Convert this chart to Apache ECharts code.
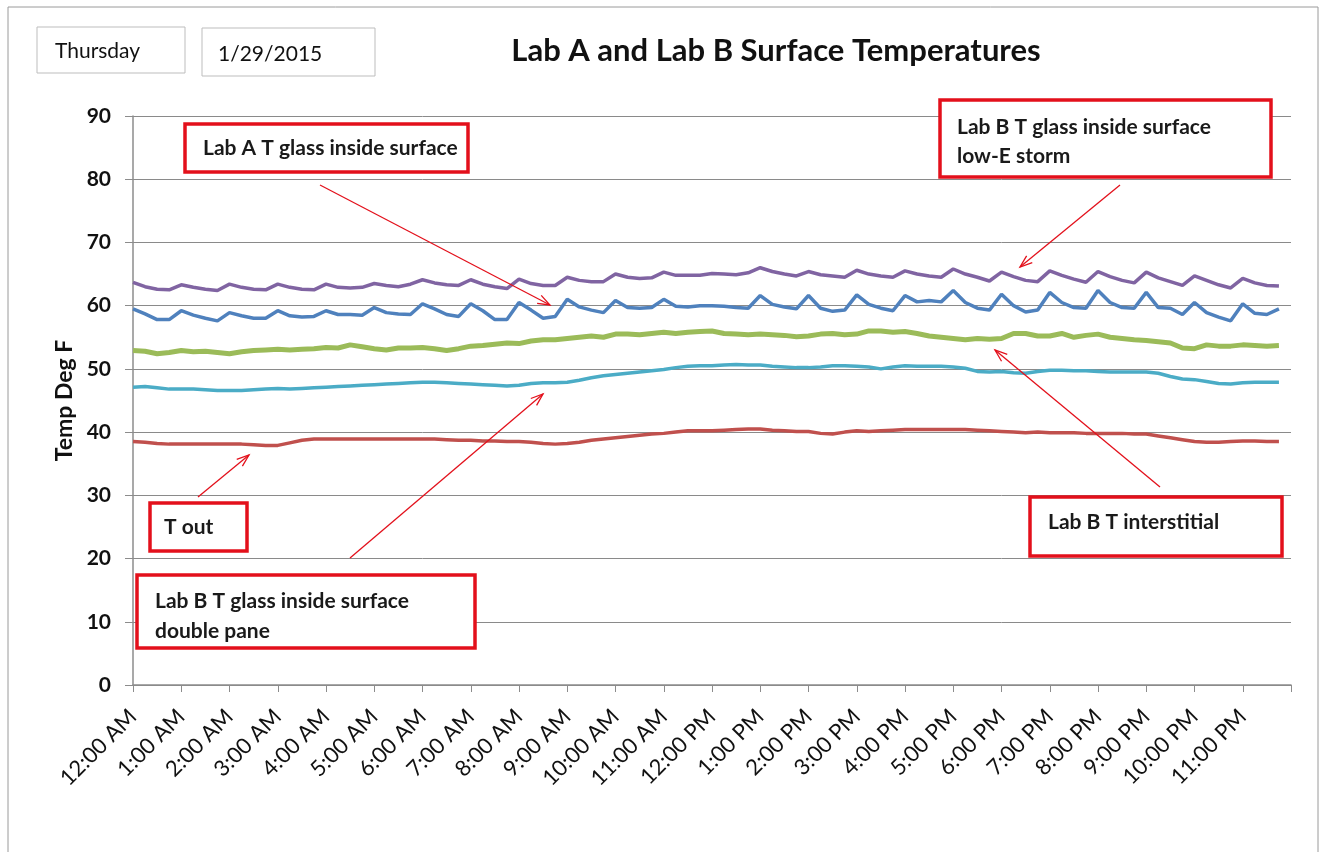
<!DOCTYPE html>
<html>
<head>
<meta charset="utf-8">
<script src="https://cdn.jsdelivr.net/npm/echarts@6/dist/echarts.min.js"></script>
<style>
  html, body { margin: 0; padding: 0; background: #fff; }
  #chart { width: 1331px; height: 852px; }
</style>
</head>
<body>
<div id="chart"></div>
<script>
// samples every 15 minutes, 12:00 AM .. 11:45 PM
const hourLabels = ["12:00 AM", "1:00 AM", "2:00 AM", "3:00 AM", "4:00 AM", "5:00 AM", "6:00 AM", "7:00 AM",
  "8:00 AM", "9:00 AM", "10:00 AM", "11:00 AM", "12:00 PM", "1:00 PM", "2:00 PM", "3:00 PM", "4:00 PM",
  "5:00 PM", "6:00 PM", "7:00 PM", "8:00 PM", "9:00 PM", "10:00 PM", "11:00 PM"];

const labBLowE = [
  63.7, 63.0, 62.6, 62.5, 63.3, 62.9, 62.6, 62.4, 63.4, 62.9, 62.6, 62.5, 63.4, 62.9, 62.6, 62.5,
  63.4, 62.9, 62.8, 62.9, 63.5, 63.2, 63.0, 63.4, 64.1, 63.6, 63.3, 63.2, 64.1, 63.4, 63.0, 62.7,
  64.2, 63.5, 63.2, 63.2, 64.5, 64.0, 63.8, 63.8, 65.0, 64.5, 64.3, 64.4, 65.3, 64.8, 64.8, 64.8,
  65.1, 65.0, 64.9, 65.2, 66.0, 65.4, 65.0, 64.7, 65.4, 64.9, 64.7, 64.5, 65.6, 65.0, 64.7, 64.5,
  65.5, 65.0, 64.7, 64.5, 65.8, 65.0, 64.5, 63.9, 65.3, 64.6, 64.0, 63.8, 65.5, 64.8, 64.2, 63.7,
  65.4, 64.6, 64.0, 63.6, 65.3, 64.4, 63.8, 63.2, 64.7, 64.0, 63.3, 62.8, 64.3, 63.6, 63.2, 63.1
];
const labAGlass = [
  59.5, 58.7, 57.8, 57.8, 59.2, 58.5, 58.0, 57.6, 58.9, 58.4, 58.0, 58.0, 59.2, 58.4, 58.2, 58.3,
  59.2, 58.6, 58.6, 58.5, 59.7, 58.9, 58.7, 58.6, 60.3, 59.5, 58.6, 58.3, 60.3, 59.2, 57.8, 57.8,
  60.5, 59.3, 58.0, 58.3, 61.0, 59.8, 59.3, 58.9, 60.8, 59.7, 59.6, 59.7, 61.0, 59.9, 59.8, 60.0,
  60.0, 59.9, 59.7, 59.6, 61.6, 60.2, 59.8, 59.5, 61.6, 59.6, 59.1, 59.3, 61.7, 60.2, 59.6, 59.2,
  61.6, 60.6, 60.8, 60.6, 62.4, 60.5, 59.6, 59.3, 61.8, 60.0, 59.0, 59.3, 62.1, 60.5, 59.7, 59.6,
  62.4, 60.5, 59.7, 59.6, 62.1, 59.7, 59.6, 58.6, 60.5, 58.9, 58.2, 57.6, 60.3, 58.8, 58.6, 59.5
];
const labBInterstitial = [
  52.9, 52.8, 52.4, 52.6, 52.9, 52.7, 52.8, 52.6, 52.4, 52.7, 52.9, 53.0, 53.1, 53.0, 53.1, 53.2,
  53.4, 53.3, 53.8, 53.5, 53.2, 53.0, 53.3, 53.3, 53.4, 53.2, 52.9, 53.2, 53.6, 53.7, 53.9, 54.1,
  54.0, 54.4, 54.6, 54.6, 54.8, 55.0, 55.2, 55.0, 55.5, 55.5, 55.4, 55.6, 55.8, 55.6, 55.8, 55.9,
  56.0, 55.6, 55.5, 55.4, 55.5, 55.4, 55.3, 55.1, 55.2, 55.5, 55.6, 55.4, 55.5, 56.0, 56.0, 55.8,
  55.9, 55.6, 55.2, 55.0, 54.8, 54.6, 54.8, 54.7, 54.8, 55.6, 55.6, 55.2, 55.2, 55.6, 55.0, 55.3,
  55.5, 55.0, 54.8, 54.6, 54.5, 54.3, 54.1, 53.3, 53.2, 53.8, 53.6, 53.6, 53.8, 53.7, 53.6, 53.7
];
const labBDoublePane = [
  47.1, 47.2, 47.0, 46.8, 46.8, 46.8, 46.7, 46.6, 46.6, 46.6, 46.7, 46.8, 46.9, 46.8, 46.9, 47.0,
  47.1, 47.2, 47.3, 47.4, 47.5, 47.6, 47.7, 47.8, 47.9, 47.9, 47.8, 47.7, 47.6, 47.5, 47.4, 47.3,
  47.4, 47.7, 47.8, 47.8, 47.9, 48.2, 48.6, 48.9, 49.1, 49.3, 49.5, 49.7, 49.9, 50.2, 50.4, 50.5,
  50.5, 50.6, 50.7, 50.6, 50.6, 50.4, 50.3, 50.2, 50.2, 50.3, 50.5, 50.5, 50.4, 50.3, 50.0, 50.3,
  50.5, 50.4, 50.4, 50.4, 50.3, 50.1, 49.6, 49.5, 49.6, 49.4, 49.3, 49.6, 49.8, 49.8, 49.7, 49.7,
  49.6, 49.5, 49.5, 49.5, 49.5, 49.3, 48.8, 48.4, 48.3, 48.0, 47.7, 47.6, 47.8, 47.9, 47.9, 47.9
];
const tOut = [
  38.5, 38.4, 38.2, 38.1, 38.1, 38.1, 38.1, 38.1, 38.1, 38.1, 38.0, 37.9, 37.9, 38.3, 38.7, 38.9,
  38.9, 38.9, 38.9, 38.9, 38.9, 38.9, 38.9, 38.9, 38.9, 38.9, 38.8, 38.7, 38.7, 38.6, 38.6, 38.5,
  38.5, 38.4, 38.2, 38.1, 38.2, 38.4, 38.7, 38.9, 39.1, 39.3, 39.5, 39.7, 39.8, 40.0, 40.2, 40.2,
  40.2, 40.3, 40.4, 40.5, 40.5, 40.3, 40.2, 40.1, 40.1, 39.8, 39.7, 40.0, 40.2, 40.1, 40.2, 40.3,
  40.4, 40.4, 40.4, 40.4, 40.4, 40.4, 40.3, 40.2, 40.1, 40.0, 39.9, 40.0, 39.9, 39.9, 39.9, 39.8,
  39.8, 39.8, 39.8, 39.7, 39.7, 39.4, 39.1, 38.8, 38.5, 38.4, 38.4, 38.5, 38.6, 38.6, 38.5, 38.5
];

const hours = [];
for (let i = 0; i < 96; i++) hours.push(i / 4);
function pairs(vals) {
  return vals.map((v, i) => [hours[i], v]);
}

const FONT = "Lato, 'Open Sans', sans-serif";
const RED = "#e3101b";

// red callout box with bold text, text block centred vertically on cy
function box(x, y, w, h, lines, tx, cy, lh) {
  return [{
    type: "rect", shape: { x: x, y: y, width: w, height: h },
    style: { fill: "#fff", stroke: RED, lineWidth: 3.5 }, z: 100
  }, {
    type: "text", x: tx, y: cy, z: 101,
    style: { text: lines.join("\n"), font: "bold 21px " + FONT, fill: "#1a1a1a",
      lineHeight: lh || 24, verticalAlign: "middle" }
  }];
}
function arrow(x1, y1, x2, y2) {
  const a = Math.atan2(y2 - y1, x2 - x1), L = 13, s = 0.35;
  return [{
    type: "line", z: 100, shape: { x1: x1, y1: y1, x2: x2, y2: y2 },
    style: { stroke: RED, lineWidth: 1.3 }
  }, {
    type: "polyline", z: 100,
    shape: { points: [[x2 - L * Math.cos(a - s), y2 - L * Math.sin(a - s)], [x2, y2],
      [x2 - L * Math.cos(a + s), y2 - L * Math.sin(a + s)]] },
    style: { stroke: RED, lineWidth: 1.3, fill: null }
  }];
}

let chart = echarts.init(document.getElementById("chart"));
let graphics = [
  { type: "rect", shape: { x: 8, y: 7, width: 1310, height: 860 }, style: { fill: null, stroke: "#9a9a9a", lineWidth: 1 } },
  { type: "rect", shape: { x: 37, y: 27, width: 148, height: 46 }, style: { fill: "#fff", stroke: "#bdbdbd", lineWidth: 1 } },
  { type: "text", x: 55, y: 51, style: { text: "Thursday", font: "21px " + FONT, fill: "#111", verticalAlign: "middle" } },
  { type: "rect", shape: { x: 202, y: 28, width: 173, height: 48 }, style: { fill: "#fff", stroke: "#bdbdbd", lineWidth: 1 } },
  { type: "text", x: 218, y: 54, style: { text: "1/29/2015", font: "21px " + FONT, fill: "#111", verticalAlign: "middle" } }
];
graphics = graphics
  .concat(box(185, 124, 283, 48, ["Lab A T glass inside surface"], 203, 148))
  .concat(box(940, 100, 331, 77, ["Lab B T glass inside surface", "low-E storm"], 957, 142, 29))
  .concat(box(150, 503, 97, 48, ["T out"], 164, 527))
  .concat(box(137, 575, 338, 73, ["Lab B T glass inside surface", "double pane"], 155, 616, 30))
  .concat(box(1030, 497, 252, 59, ["Lab B T interstitial"], 1048, 522))
  .concat(arrow(320, 185, 550, 305))
  .concat(arrow(1120, 185, 1020, 267))
  .concat(arrow(198, 497, 249, 455))
  .concat(arrow(350, 558, 543, 394))
  .concat(arrow(1160, 487, 995, 350));

function line(name, vals, color, width) {
  return {
    name: name, type: "line", data: pairs(vals), showSymbol: false, smooth: false,
    lineStyle: { color: color, width: width }, itemStyle: { color: color }, z: 3
  };
}

let option = {
  animation: false,
  backgroundColor: "#fff",
  title: {
    text: "Lab A and Lab B Surface Temperatures",
    left: 771, top: 30, textAlign: "center",
    textStyle: { fontFamily: FONT, fontSize: 31, fontWeight: "bold", color: "#111" }
  },
  grid: { left: 133, right: 40, top: 116, bottom: 167 },
  xAxis: {
    type: "value", min: 0, max: 24, interval: 1,
    axisLine: { lineStyle: { color: "#8c8c8c", width: 1.5 } },
    axisTick: { show: true, length: 7, lineStyle: { color: "#8c8c8c" } },
    splitLine: { show: false },
    axisLabel: {
      rotate: 45, margin: 28, fontFamily: FONT, fontSize: 22, color: "#111",
      formatter: v => (v < 24 ? hourLabels[v] : "")
    }
  },
  yAxis: {
    type: "value", min: 0, max: 90, interval: 10,
    name: "Temp Deg F", nameLocation: "middle", nameRotate: 90, nameGap: 55,
    nameTextStyle: { fontFamily: FONT, fontSize: 23, fontWeight: "bold", color: "#111" },
    axisLine: { show: true, lineStyle: { color: "#8c8c8c", width: 1.5 } },
    axisTick: { show: true, length: 8, lineStyle: { color: "#8c8c8c" } },
    splitLine: { lineStyle: { color: "#8a8a8a", width: 1 } },
    axisLabel: { margin: 22, fontFamily: FONT, fontSize: 21, fontWeight: "bold", color: "#111" }
  },
  series: [
    line("T out", tOut, "#c0504d", 3.5),
    line("Lab B T glass inside surface double pane", labBDoublePane, "#4bacc6", 3.5),
    line("Lab B T interstitial", labBInterstitial, "#9bbb59", 5),
    line("Lab A T glass inside surface", labAGlass, "#4f81bd", 3.5),
    line("Lab B T glass inside surface low-E storm", labBLowE, "#8064a2", 3.5)
  ],
  graphic: graphics
};
chart.setOption(option);
</script>
</body>
</html>
